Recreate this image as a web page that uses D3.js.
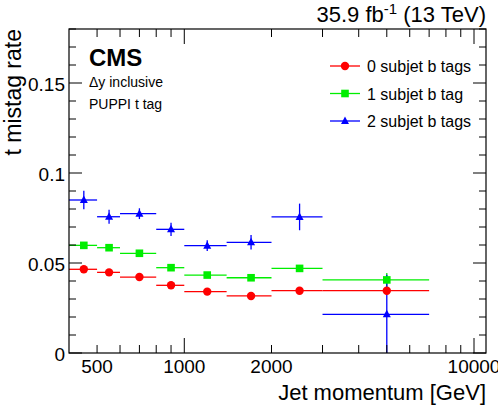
<!DOCTYPE html>
<html><head><meta charset="utf-8">
<script src="https://cdn.jsdelivr.net/npm/d3@7"></script>
<style>body{margin:0;background:#fff;} text{font-family:"Liberation Sans",Arial,sans-serif;}</style>
</head><body><svg id="c" width="498" height="407"></svg>
<script>
const binEdges = [400, 500, 600, 800, 1000, 1400, 2000, 3000, 7000];
const series0 = [0.0465, 0.0448, 0.0422, 0.0376, 0.0341, 0.0317, 0.0346, 0.0346];
const err0 = [0.0010, 0.0009, 0.0008, 0.0008, 0.0008, 0.0010, 0.0012, 0.0020];
const series1 = [0.0598, 0.0585, 0.0554, 0.0474, 0.0433, 0.0418, 0.0470, 0.0406];
const err1 = [0.0014, 0.0012, 0.0010, 0.0010, 0.0010, 0.0012, 0.0018, 0.0039];
const series2 = [0.0850, 0.0757, 0.0774, 0.0687, 0.0596, 0.0615, 0.0756, 0.0215];
const err2 = [0.0052, 0.0039, 0.0030, 0.0037, 0.0030, 0.0040, 0.0074, 0.0220];
const seriesNames = ["0 subjet b tags", "1 subjet b tag", "2 subjet b tags"];
const yTickLabels = ["0", "0.05", "0.1", "0.15"];
const xTickLabels = ["500", "1000", "2000", "10000"];

const svg = d3.select("#c");
const L = 69, R = 486, T = 29, B = 353;
const x = d3.scaleLog().domain([400, 11000]).range([L, R]);
const y = d3.scaleLinear().domain([0, 0.18]).range([B, T]);
const colors = ["#ff0000", "#00ee00", "#0000ff"];

// data
const allSeries = [[series0, err0], [series1, err1], [series2, err2]];
const g = svg.append("g");
allSeries.forEach(([vals, errs], s) => {
  const c = colors[s];
  vals.forEach((v, i) => {
    const lo = binEdges[i], hi = binEdges[i + 1], xc = (lo + hi) / 2;
    g.append("line").attr("x1", x(lo)).attr("x2", x(hi)).attr("y1", y(v)).attr("y2", y(v))
      .attr("stroke", c).attr("stroke-width", 1.3);
    g.append("line").attr("x1", x(xc)).attr("x2", x(xc))
      .attr("y1", y(Math.max(0, v - errs[i]))).attr("y2", y(v + errs[i]))
      .attr("stroke", c).attr("stroke-width", 1.3);
  });
});
function marker(sel, s, cx, cy) {
  const c = colors[s];
  if (s === 0) sel.append("circle").attr("cx", cx).attr("cy", cy).attr("r", 4.2).attr("fill", c);
  else if (s === 1) sel.append("rect").attr("x", cx - 3.8).attr("y", cy - 3.8).attr("width", 7.6).attr("height", 7.6).attr("fill", c);
  else sel.append("path").attr("d", `M${cx},${cy - 4.5}L${cx + 4},${cy + 3}L${cx - 4},${cy + 3}Z`).attr("fill", c);
}
allSeries.forEach(([vals], s) => {
  vals.forEach((v, i) => {
    const xc = (binEdges[i] + binEdges[i + 1]) / 2;
    marker(g, s, x(xc), y(v));
  });
});

// frame
svg.append("rect").attr("x", L).attr("y", T).attr("width", R - L).attr("height", B - T)
  .attr("fill", "none").attr("stroke", "#000").attr("stroke-width", 1.2);

// x ticks
const ax = svg.append("g").attr("stroke", "#000").attr("stroke-width", 1);
const xMinor = [500,600,700,800,900,2000,3000,4000,5000,6000,7000,8000,9000];
const xMajor = [1000, 10000];
xMinor.forEach(t => {
  ax.append("line").attr("x1", x(t)).attr("x2", x(t)).attr("y1", B).attr("y2", B - 8);
  ax.append("line").attr("x1", x(t)).attr("x2", x(t)).attr("y1", T).attr("y2", T + 8);
});
xMajor.forEach(t => {
  ax.append("line").attr("x1", x(t)).attr("x2", x(t)).attr("y1", B).attr("y2", B - 15);
  ax.append("line").attr("x1", x(t)).attr("x2", x(t)).attr("y1", T).attr("y2", T + 15);
});
xTickLabels.forEach(lbl => {
  svg.append("text").attr("x", x(+lbl)).attr("y", 373).attr("text-anchor", "middle")
    .attr("font-size", 19).text(lbl);
});
// y ticks
d3.range(0, 0.1801, 0.01).forEach((t, i) => {
  const major = i % 5 === 0;
  const len = major ? 13 : 7;
  ax.append("line").attr("x1", L).attr("x2", L + len).attr("y1", y(t)).attr("y2", y(t));
  ax.append("line").attr("x1", R).attr("x2", R - len).attr("y1", y(t)).attr("y2", y(t));
});
yTickLabels.forEach(lbl => {
  svg.append("text").attr("x", 65).attr("y", y(+lbl) + 8).attr("text-anchor", "end")
    .attr("font-size", 19).text(lbl);
});

// titles
svg.append("text").attr("x", R).attr("y", 400).attr("text-anchor", "end").attr("font-size", 22)
  .text("Jet momentum [GeV]");
svg.append("text").attr("transform", `translate(21,${T}) rotate(-90)`).attr("text-anchor", "end")
  .attr("font-size", 23).text("t mistag rate");
const lumi = svg.append("text").attr("x", R).attr("y", 22).attr("text-anchor", "end").attr("font-size", 22);
lumi.append("tspan").text("35.9 fb");
lumi.append("tspan").attr("dy", -8).attr("font-size", 15).text("-1");
lumi.append("tspan").attr("dy", 8).text(" (13 TeV)");

svg.append("text").attr("x", 89).attr("y", 66).attr("font-size", 24).attr("font-weight", "bold").text("CMS");
svg.append("text").attr("x", 89).attr("y", 87).attr("font-size", 14).text("\u0394y inclusive");
svg.append("text").attr("x", 89).attr("y", 109).attr("font-size", 14).text("PUPPI t tag");

// legend
const legY = [66, 93.5, 121];
seriesNames.forEach((n, s) => {
  const ly = legY[s];
  svg.append("line").attr("x1", 330).attr("x2", 360).attr("y1", ly).attr("y2", ly)
    .attr("stroke", colors[s]).attr("stroke-width", 1.3);
  marker(svg, s, 345, ly);
  svg.append("text").attr("x", 367).attr("y", ly + 6).attr("font-size", 16).text(n);
});
</script></body></html>
